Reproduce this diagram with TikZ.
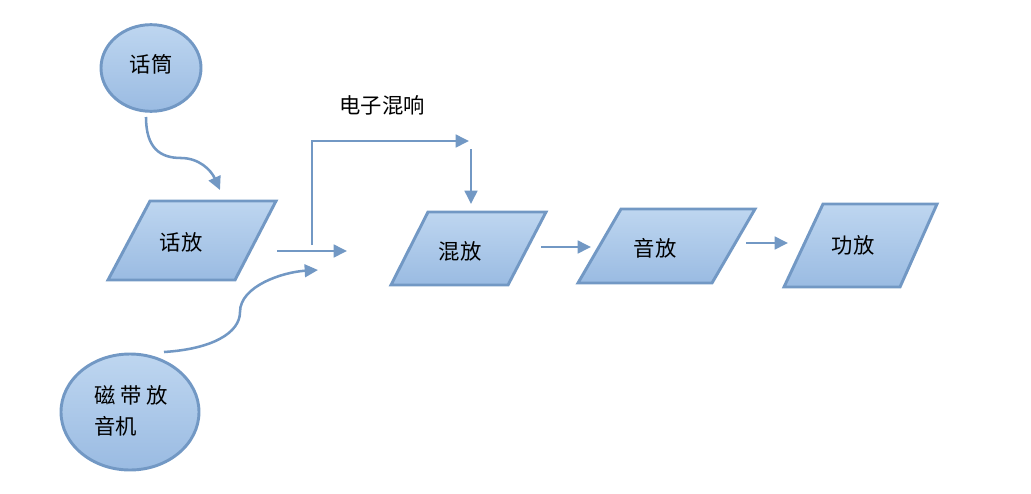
\documentclass[tikz,border=0pt]{standalone}
\usepackage{fontspec}
\setmainfont{Noto Sans CJK SC}
\usetikzlibrary{shapes.geometric,arrows.meta}
\definecolor{edgeblue}{RGB}{114,152,196}
\definecolor{filltop}{RGB}{190,214,240}
\definecolor{fillbot}{RGB}{154,187,226}
\tikzset{
  boxshape/.style={draw=edgeblue,line width=2.2pt,top color=filltop,bottom color=fillbot,line join=miter},
  ellshape/.style={ellipse,draw=edgeblue,line width=2.2pt,top color=filltop,bottom color=fillbot,inner sep=0pt},
  lbl/.style={font=\fontsize{16}{23}\selectfont,inner sep=0pt},
  conn/.style={draw=edgeblue,line width=1.9pt,-{Triangle[length=10pt,width=9.5pt]}},
}
\begin{document}
\begin{tikzpicture}[x=0.75pt,y=-0.75pt]
\useasboundingbox (0,0) rectangle (1031,493);
% ellipses
\node[ellshape,minimum width=75pt,minimum height=65pt] (mic) at (151,68) {};
\node[lbl] (micT) at (151,64) {话筒};
\node[ellshape,minimum width=103.5pt,minimum height=87pt] (tape) at (130,412) {};
\node[lbl,align=left] (tapeT) at (131,411) {磁 带 放\\音机};
% parallelograms
\path[boxshape] (150,201) -- (276,201) -- (235,280) -- (108,280) -- cycle;
\node[lbl] (huafang) at (181,242) {话放};
\path[boxshape] (428,212) -- (546,212) -- (508,285) -- (391,285) -- cycle;
\node[lbl] (hunfang) at (460,251) {混放};
\path[boxshape] (621,209) -- (755,209) -- (712,283) -- (578,283) -- cycle;
\node[lbl] (yinfang) at (655,248) {音放};
\path[boxshape] (823,204) -- (937,204) -- (900,287) -- (784,287) -- cycle;
\node[lbl] (gongfang) at (853,245) {功放};
\node[lbl] (reverb) at (382,105) {电子混响};
% connector end points
\coordinate (c1s) at (146,117);
\coordinate (c1m) at (181,158);
\coordinate (c1e) at (220,190);
\coordinate (c2s) at (164,352);
\coordinate (c2m) at (240,312);
\coordinate (c2e) at (318,270);
\coordinate (h1s) at (277,251);
\coordinate (h1e) at (347,251);
\coordinate (vb) at (312,245);
\coordinate (vt) at (312,141);
\coordinate (ht) at (469,141);
\coordinate (ds) at (471,149);
\coordinate (de) at (471,204);
\coordinate (a1s) at (541,247);
\coordinate (a1e) at (591,247);
\coordinate (a2s) at (746,243);
\coordinate (a2e) at (788,243);
% connectors
\draw[conn] (c1s) .. controls (146,148) and (160,158) .. (c1m) .. controls (199,158) and (211,170) .. (c1e);
\draw[conn] (c2s) .. controls (212,349) and (240,333) .. (c2m) .. controls (240,286) and (283,272) .. (c2e);
\draw[conn] (h1s) -- (h1e);
\draw[conn] (vb) -- (vt) -- (ht);
\draw[conn] (ds) -- (de);
\draw[conn] (a1s) -- (a1e);
\draw[conn] (a2s) -- (a2e);
\end{tikzpicture}
\end{document}
